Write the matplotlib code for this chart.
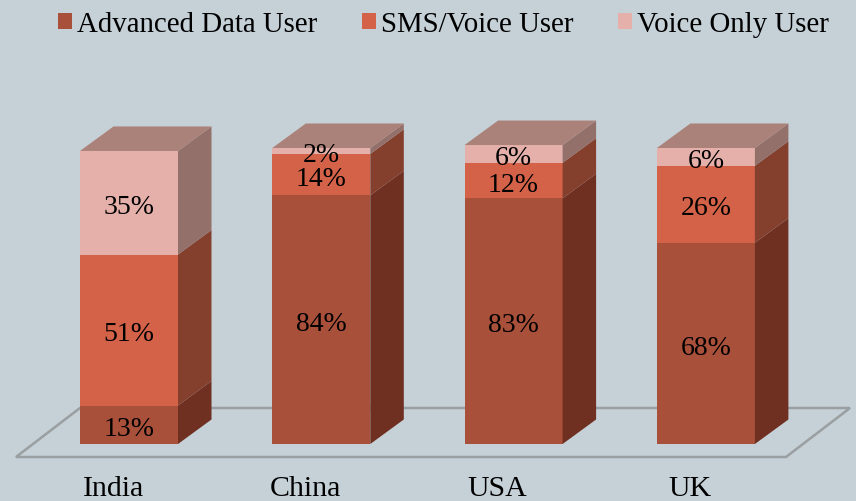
import numpy as np
import matplotlib
matplotlib.use('Agg')
import matplotlib.pyplot as plt
from matplotlib.patches import Patch, Polygon

countries = ['India', 'China', 'USA', 'UK']
series_names = ['Advanced Data User', 'SMS/Voice User', 'Voice Only User']
advanced = [13, 84, 83, 68]
sms_voice = [51, 14, 12, 26]
voice_only = [35, 2, 6, 6]

front_colors = ['#a9503a', '#d36248', '#e5b0aa']
side_colors = ['#6f3022', '#843f2d', '#93706a']
top_color = '#ab8279'
bg = '#c5d0d7'

W, H = 856, 501
CENTER0, STEP = 129.0, 192.3   # px of first bar centre, px between bars
BASE, PER_PCT = 444.0, 2.96    # px of zero line, px per percent


def px(x, y):
    # pixel position in the picture -> data coordinates
    return (x - CENTER0) / STEP, (BASE - y) / PER_PCT


fig = plt.figure(figsize=(W / 100, H / 100), dpi=100, facecolor=bg)
ax = fig.add_axes([0, 0, 1, 1])
ax.set_xlim(px(0, 0)[0], px(W, 0)[0])
ax.set_ylim(px(0, H)[1], px(0, 0)[1])
ax.axis('off')
plt.rcParams['font.family'] = ['Liberation Serif', 'DejaVu Serif']

# floor
floor = [px(16, 457), px(786, 457), px(850, 408), px(80, 408)]
ax.add_patch(Polygon(floor, closed=True, fc='none', ec='#9a9fa2', lw=1.8, zorder=1))

width = 98 / STEP
dx = 33.5 / STEP
dy = 24.5 / PER_PCT
xs = np.arange(len(countries))
bottom = np.zeros(len(countries))

for vals, front, side in zip([advanced, sms_voice, voice_only], front_colors, side_colors):
    vals = np.array(vals, dtype=float)
    ax.bar(xs, vals, width=width, bottom=bottom, color=front, zorder=3)
    for x, b, v in zip(xs, bottom, vals):
        r = x + width / 2
        ax.add_patch(Polygon([(r, b), (r + dx, b + dy), (r + dx, b + v + dy), (r, b + v)],
                             closed=True, fc=side, ec='none', zorder=3))
        ax.text(x, b + v / 2 - 1.6, '%d%%' % v, ha='center', va='center', fontsize=20,
                color='black', zorder=5)
    bottom = bottom + vals

for x, t in zip(xs, bottom):
    l = x - width / 2
    ax.add_patch(Polygon([(l, t), (l + width, t), (l + width + dx, t + dy), (l + dx, t + dy)],
                         closed=True, fc=top_color, ec='none', zorder=4))

for x, name in zip(xs, countries):
    ax.text(x - 16 / STEP, px(0, 489)[1], name, ha='center', va='center', fontsize=21.5, color='black')

handles = [Patch(fc=c, ec='none') for c in front_colors]
ax.legend(handles, series_names, ncol=3, frameon=False, fontsize=20.8,
          loc='center left', bbox_to_anchor=(58 / W, 1 - 24.5 / H),
          handlelength=0.485, handleheight=0.485, handletextpad=0.17, columnspacing=1.55,
          borderpad=0, borderaxespad=0)

fig.savefig('out.png', dpi=100, facecolor=bg)
